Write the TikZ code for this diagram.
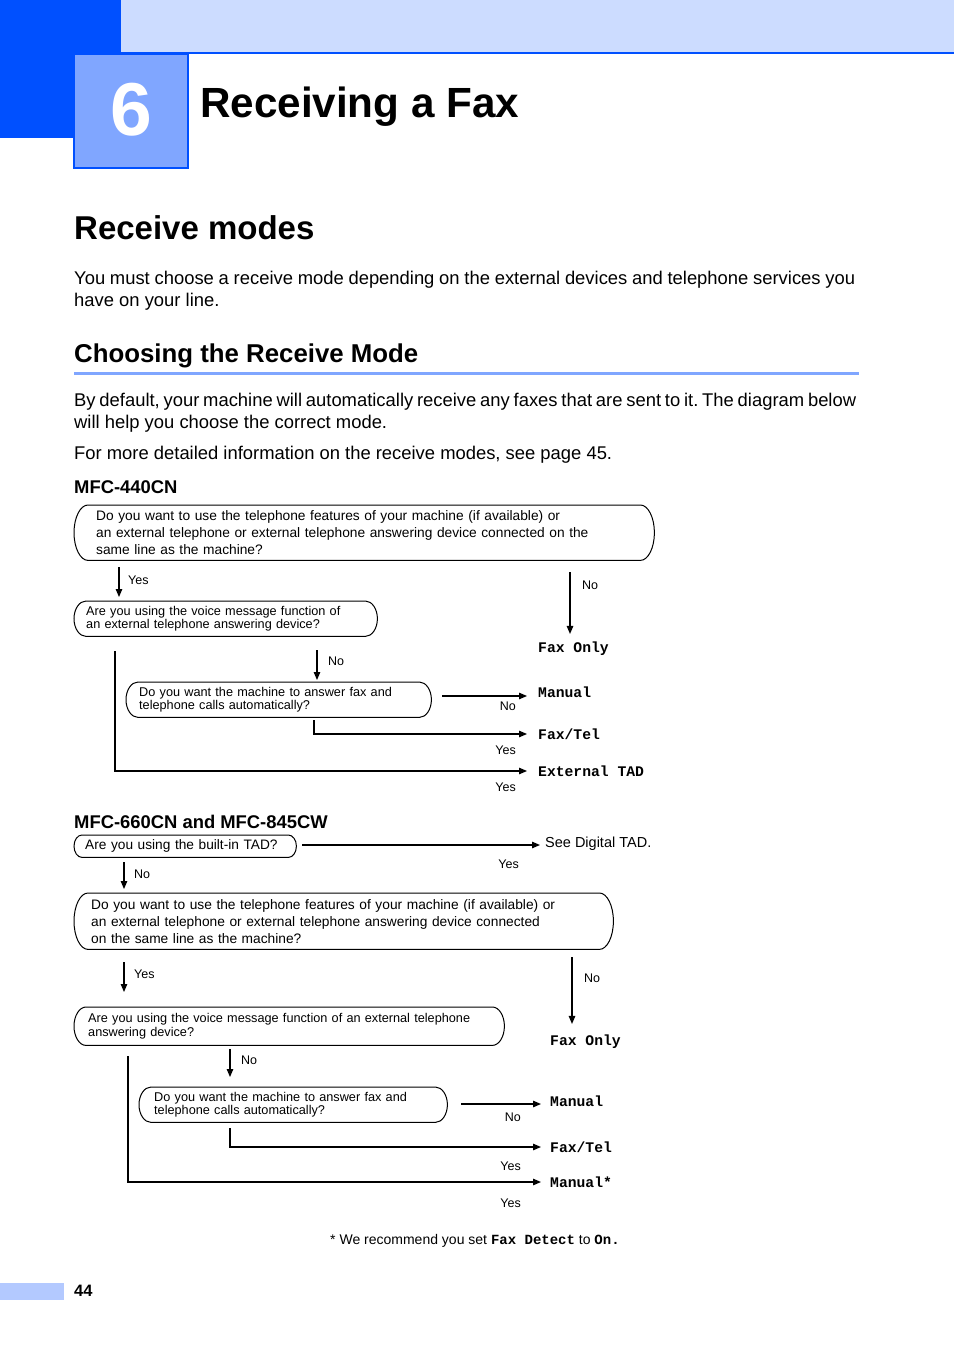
\documentclass[tikz,border=0pt]{standalone}
\usepackage{fontspec}
\setmainfont{Liberation Sans}
\setmonofont{Liberation Mono}
\usetikzlibrary{positioning, calc, arrows.meta}
\frenchspacing
\definecolor{brBlue}{RGB}{0, 80, 255}
\definecolor{brPale}{RGB}{204, 220, 255}
\definecolor{brMid}{RGB}{128, 166, 255}
\definecolor{brFoot}{RGB}{179, 201, 255}
\tikzset{
  qbox/.style={rectangle, anchor=north west, align=left, inner ysep=0pt,
               font=\fontsize{12.7}{13.5}\selectfont},
  qboxL/.style={qbox, font=\fontsize{13.75}{17}\selectfont},
  boxline/.style={draw=black, line width=1pt},
  modetxt/.style={anchor=west, inner sep=0pt,
                  font=\fontsize{14.7}{15}\selectfont\ttfamily\bfseries},
  lbl/.style={anchor=west, inner sep=0pt, font=\fontsize{12.5}{13}\selectfont},
  bodytxt/.style={anchor=base west, inner sep=0pt, font=\fontsize{18.4}{22}\selectfont},
  headtxt/.style={anchor=base west, inner sep=0pt, font=\bfseries\fontsize{18.4}{22}\selectfont},
}
% outline with bulging ends round a question node: #1 node, #2 end width
\newcommand{\bulgebox}[2]{%
  \draw[boxline]
    ([xshift=#2]#1.north west) -- ([xshift=-#2]#1.north east)
    .. controls ([xshift=-0.45*#2]#1.north east) and ($(#1.east)!0.55!(#1.north east)$) .. (#1.east)
    .. controls ($(#1.east)!0.55!(#1.south east)$) and ([xshift=-0.45*#2]#1.south east) .. ([xshift=-#2]#1.south east)
    -- ([xshift=#2]#1.south west)
    .. controls ([xshift=0.45*#2]#1.south west) and ($(#1.west)!0.55!(#1.south west)$) .. (#1.west)
    .. controls ($(#1.west)!0.55!(#1.north west)$) and ([xshift=0.45*#2]#1.north west) .. cycle;}

\begin{document}
\begin{tikzpicture}[
    x=1pt, y=-1pt,
    arr/.style={-{Triangle[length=8pt,width=6.5pt]}, line width=1.2pt},
  ]
    \useasboundingbox (0,0) rectangle (954,1348);

    % chapter header
    \fill[brBlue] (0,0) rectangle (121,138);
    \fill[brPale] (121,0) rectangle (954,52);
    \fill[brBlue] (121,52) rectangle (954,54);
    \filldraw[fill=brMid, draw=brBlue, line width=1.5pt] (74,54) rectangle (188,168);
    \node[text=white, font=\bfseries\fontsize{75}{75}\selectfont] (chno) at (131,110) {6};
    \node[anchor=base west, inner sep=0pt, font=\bfseries\fontsize{42.2}{44}\selectfont]
         (chtitle) at (200,118) {Receiving a Fax};

    % section headings and text
    \node[anchor=base west, inner sep=0pt, font=\bfseries\fontsize{33}{36}\selectfont]
         (sec) at (74,240) {Receive modes};
    \node[bodytxt] (p1a) at (74,284) {\makebox[781pt][s]{You must choose a receive mode depending on the external devices and telephone services you}};
    \node[bodytxt] (p1b) at (74,306) {have on your line.};
    \node[anchor=base west, inner sep=0pt, font=\bfseries\fontsize{25.8}{28}\selectfont]
         (subsec) at (74,362) {Choosing the Receive Mode};
    \fill[brMid] (74,372) rectangle (859,375);
    \node[bodytxt] (p2a) at (74,406) {\makebox[782pt][s]{By default, your machine will automatically receive any faxes that are sent to it. The diagram below}};
    \node[bodytxt] (p2b) at (74,428) {will help you choose the correct mode.};
    \node[bodytxt] (p3) at (74,459) {For more detailed information on the receive modes, see page 45.};

    % MFC-440CN
    \node[headtxt] (m440) at (74,493) {MFC-440CN};
    \node[qboxL, inner xsep=22pt, text width=536pt, minimum height=55pt] (q1) at (74,505)
         {Do you want to use the telephone features of your machine (if available) or\\
          an external telephone or external telephone answering device connected on the\\
          same line as the machine?};
    \node[qbox, inner xsep=12pt, text width=279pt, minimum height=35pt] (q2) at (74,601)
         {Are you using the voice message function of\\an external telephone answering device?};
    \node[qbox, inner xsep=13pt, text width=279pt, minimum height=35pt] (q3) at (126,682)
         {Do you want the machine to answer fax and\\telephone calls automatically?};
    \bulgebox{q1}{14pt}
    \bulgebox{q2}{12pt}
    \bulgebox{q3}{12pt}
    \node[modetxt] (fo1) at (538,649) {Fax Only};
    \node[modetxt] (ma1) at (538,692) {Manual};
    \node[modetxt] (ft1) at (538,734) {Fax/Tel};
    \node[modetxt] (et1) at (538,771) {External TAD};

    \coordinate (a1) at (119,567);
    \coordinate (b1) at (570,572);
    \coordinate (c1) at (115,651);
    \coordinate (d1) at (317,650);
    \coordinate (e1) at (442,696);
    \coordinate (f1) at (314,720);
    \draw[arr, shorten >=4pt] (a1) -- (a1 |- q2.north);
    \draw[arr, shorten >=8pt] (b1) -- (b1 |- fo1.north);
    \draw[arr, shorten >=11pt] (c1) |- (et1.west);
    \draw[arr, shorten >=2pt] (d1) -- (d1 |- q3.north);
    \draw[arr, shorten >=11pt] (e1) -- (e1 -| ma1.west);
    \draw[arr, shorten >=11pt] (f1) |- (ft1.west);

    \node[lbl] (y1) at (128,580) {Yes};
    \node[lbl] (n1) at (582,585) {No};
    \node[lbl] (n2) at (328,661) {No};
    \node[lbl, anchor=east] (n3) at (516,706) {No};
    \node[lbl, anchor=east] (y2) at (516,750) {Yes};
    \node[lbl, anchor=east] (y3) at (516,787) {Yes};

    % MFC-660CN and MFC-845CW
    \node[headtxt] (m660) at (74,828) {MFC-660CN and MFC-845CW};
    \node[qbox, inner xsep=11pt, text width=200pt, minimum height=22pt,
          font=\fontsize{13.7}{14}\selectfont] (q4) at (74,835) {Are you using the built-in TAD?};
    \node[anchor=west, inner sep=0pt, font=\fontsize{14.5}{15}\selectfont] (sd) at (545,844)
         {See Digital TAD.};
    \node[qboxL, inner xsep=17pt, text width=505pt, minimum height=56pt] (q5) at (74,893)
         {Do you want to use the telephone features of your machine (if available) or\\
          an external telephone or external telephone answering device connected\\
          on the same line as the machine?};
    \node[qbox, inner xsep=14pt, text width=402pt, minimum height=38pt] (q6) at (74,1007)
         {Are you using the voice message function of an external telephone\\answering device?};
    \node[qbox, inner xsep=15pt, text width=278pt, minimum height=35pt] (q7) at (139,1087)
         {Do you want the machine to answer fax and\\telephone calls automatically?};
    \bulgebox{q4}{8pt}
    \bulgebox{q5}{14pt}
    \bulgebox{q6}{12pt}
    \bulgebox{q7}{12pt}
    \node[modetxt] (fo2) at (550,1042) {Fax Only};
    \node[modetxt] (ma2) at (550,1101) {Manual};
    \node[modetxt] (ft2) at (550,1147) {Fax/Tel};
    \node[modetxt] (ma3) at (550,1182) {Manual*};

    \coordinate (g2) at (302,845);
    \coordinate (h2) at (124,862);
    \coordinate (i2) at (124,962);
    \coordinate (j2) at (572,957);
    \coordinate (k2) at (128,1056);
    \coordinate (l2) at (230,1049);
    \coordinate (m2) at (461,1104);
    \coordinate (o2) at (230,1128);
    \draw[arr, shorten >=5pt] (g2) -- (g2 -| sd.west);
    \draw[arr, shorten >=4pt] (h2) -- (h2 |- q5.north);
    \draw[arr, shorten >=15pt] (i2) -- (i2 |- q6.north);
    \draw[arr, shorten >=11pt] (j2) -- (j2 |- fo2.north);
    \draw[arr, shorten >=9pt] (k2) |- (ma3.west);
    \draw[arr, shorten >=10pt] (l2) -- (l2 |- q7.north);
    \draw[arr, shorten >=9pt] (m2) -- (m2 -| ma2.west);
    \draw[arr, shorten >=9pt] (o2) |- (ft2.west);

    \node[lbl, anchor=east] (y4) at (519,864) {Yes};
    \node[lbl] (n4) at (134,874) {No};
    \node[lbl] (y5) at (134,974) {Yes};
    \node[lbl] (n5) at (584,978) {No};
    \node[lbl] (n6) at (241,1060) {No};
    \node[lbl, anchor=east] (n7) at (521,1117) {No};
    \node[lbl, anchor=east] (y6) at (521,1166) {Yes};
    \node[lbl, anchor=east] (y7) at (521,1203) {Yes};

    % footnote and page number
    \node[anchor=base west, inner sep=0pt, font=\fontsize{14}{14}\selectfont] (fn) at (330,1244)
         {* We recommend you set \textbf{\texttt{Fax Detect}} to \textbf{\texttt{On.}}};
    \fill[brFoot] (0,1283) rectangle (64,1300);
    \node[anchor=base west, inner sep=0pt, font=\bfseries\fontsize{16.5}{17}\selectfont]
         (pgno) at (74,1296) {44};
  \end{tikzpicture}
\end{document}
